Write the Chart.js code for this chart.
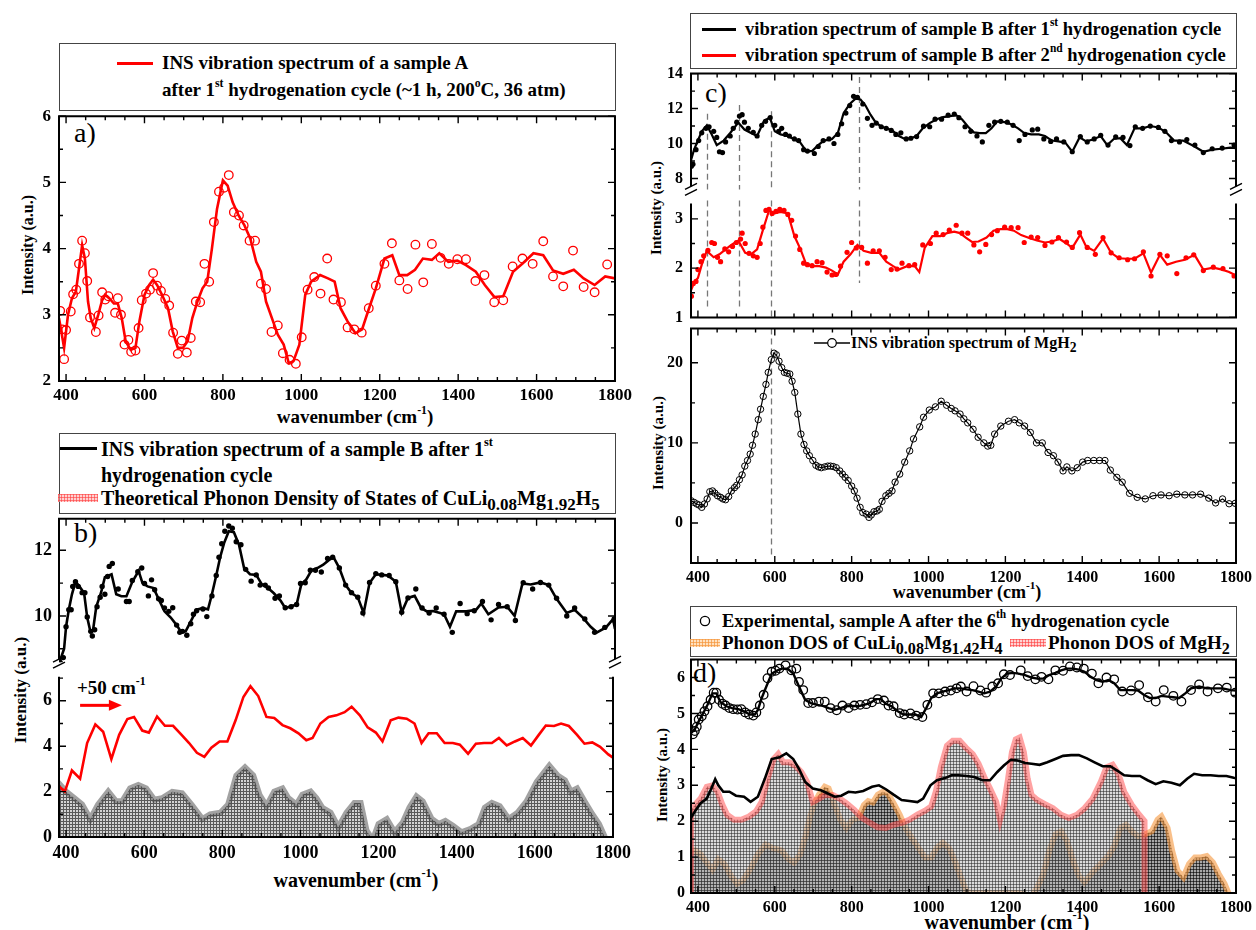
<!DOCTYPE html>
<html>
<head>
<meta charset="utf-8">
<script src="https://cdn.jsdelivr.net/npm/chart.js@4.4.1/dist/chart.umd.min.js"></script>
<style>
body { margin: 0; background: #fff; }
#fig { position: relative; width: 1256px; height: 930px; overflow: hidden; background: #fff;
  font-family: "Liberation Serif", "Times New Roman", serif; color: #000; }
.box { position: absolute; border: 1.5px solid #444; box-sizing: border-box; }
.t { position: absolute; white-space: nowrap; font-weight: bold; line-height: 22px; }
.t sup, .xt sup { font-size: 62%; line-height: 0; vertical-align: 0.8em; }
.t sub { font-size: 85%; line-height: 0; vertical-align: -0.3em; }
.sw { position: absolute; }
.lab { position: absolute; font-size: 28px; line-height: 30px; }
.yt { position: absolute; font-weight: bold; white-space: nowrap; transform: translate(-50%, -50%) rotate(-90deg); }
.xt { position: absolute; font-weight: bold; white-space: nowrap; transform: translate(-50%, -50%); }
.mesh-r { background-color: rgba(255,180,180,.6);
  background-image: linear-gradient(90deg, rgba(255,60,60,.6) 1px, transparent 1px), linear-gradient(rgba(255,60,60,.6) 1px, transparent 1px);
  background-size: 3px 3px; }
.mesh-o { background-color: rgba(255,205,150,.6);
  background-image: linear-gradient(90deg, rgba(245,150,60,.7) 1px, transparent 1px), linear-gradient(rgba(245,150,60,.7) 1px, transparent 1px);
  background-size: 3px 3px; }
</style>
</head>
<body>
<div id="fig">
  <!-- a) legend -->
  <div class="box" style="left:59px;top:43px;width:557px;height:68px"></div>
  <div class="sw" style="left:117px;top:62px;width:36px;height:3px;background:#f00"></div>
  <div class="t" style="left:162px;top:52px;font-size:19px">INS vibration spectrum of a sample A</div>
  <div class="t" style="left:162px;top:79px;font-size:19px">after 1<sup>st</sup> hydrogenation cycle (~1 h, 200<sup>o</sup>C, 36 atm)</div>
  <div class="lab" style="left:74px;top:118px">a)</div>
  <div class="yt" style="left:28px;top:245px;font-size:16px">Intensity (a.u.)</div>
  <div class="xt" style="left:355px;top:417px;font-size:19px">wavenumber (cm<sup>-1</sup>)</div>

  <!-- b) legend -->
  <div class="box" style="left:59px;top:433px;width:557px;height:81px"></div>
  <div class="sw" style="left:60px;top:447px;width:37px;height:3px;background:#000"></div>
  <div class="t" style="left:101px;top:438px;font-size:20px">INS vibration spectrum of a sample B after 1<sup>st</sup></div>
  <div class="t" style="left:101px;top:464px;font-size:20px">hydrogenation cycle</div>
  <div class="sw mesh-r" style="left:58px;top:494px;width:40px;height:8px"></div>
  <div class="t" style="left:101px;top:487px;font-size:20px">Theoretical Phonon Density of States of CuLi<sub>0.08</sub>Mg<sub>1.92</sub>H<sub>5</sub></div>
  <div class="lab" style="left:74px;top:518px">b)</div>
  <div class="t" style="left:77px;top:677px;font-size:19px">+50 cm<sup>-1</sup></div>
  <div class="yt" style="left:21px;top:690px;font-size:17px">Intensity (a.u.)</div>
  <div class="xt" style="left:356px;top:880px;font-size:20px">wavenumber (cm<sup>-1</sup>)</div>

  <!-- c) legend -->
  <div class="box" style="left:690px;top:13px;width:547px;height:56px"></div>
  <div class="sw" style="left:702px;top:28px;width:34px;height:2.5px;background:#000"></div>
  <div class="t" style="left:745px;top:18px;font-size:18.5px">vibration spectrum of sample B after 1<sup>st</sup> hydrogenation cycle</div>
  <div class="sw" style="left:702px;top:54px;width:34px;height:2.5px;background:#f00"></div>
  <div class="t" style="left:745px;top:44px;font-size:18.5px">vibration spectrum of sample B after 2<sup>nd</sup> hydrogenation cycle</div>
  <div class="lab" style="left:705px;top:78px">c)</div>
  <svg class="sw" style="left:814px;top:337px" width="36" height="12"><line x1="0" y1="6" x2="36" y2="6" stroke="#000" stroke-width="1.3"/><circle cx="18" cy="6" r="4.3" fill="#fff" stroke="#000" stroke-width="1.2"/></svg>
  <div class="t" style="left:851px;top:332px;font-size:16px">INS vibration spectrum of MgH<sub>2</sub></div>
  <div class="yt" style="left:656px;top:208px;font-size:15px">Intensity (a.u.)</div>
  <div class="yt" style="left:658px;top:443px;font-size:15px">Intensity (a.u.)</div>
  <div class="xt" style="left:967px;top:592px;font-size:18px">wavenumber (cm<sup>-1</sup>)</div>

  <!-- d) legend -->
  <div class="box" style="left:690px;top:606px;width:547px;height:51px"></div>
  <svg class="sw" style="left:699px;top:615px" width="12" height="12"><circle cx="6" cy="6" r="4.6" fill="none" stroke="#000" stroke-width="1.3"/></svg>
  <div class="t" style="left:722px;top:610px;font-size:18.5px">Experimental, sample A after the 6<sup>th</sup> hydrogenation cycle</div>
  <div class="sw mesh-o" style="left:690px;top:639px;width:30px;height:8px"></div>
  <div class="t" style="left:722px;top:632px;font-size:19px">Phonon DOS of CuLi<sub>0.08</sub>Mg<sub>1.42</sub>H<sub>4</sub></div>
  <div class="sw mesh-r" style="left:1010px;top:639px;width:36px;height:8px"></div>
  <div class="t" style="left:1048px;top:632px;font-size:19px">Phonon DOS of MgH<sub>2</sub></div>
  <div class="lab" style="left:693px;top:658px">d)</div>
  <div class="yt" style="left:662px;top:775px;font-size:15px">Intensity (a.u.)</div>
  <div class="xt" style="left:1007px;top:922px;font-size:20px">wavenumber (cm<sup>-1</sup>)</div>
</div>

<script>
// ── shared x axis ──
const X_MIN = 382, X_MAX = 1800;
const xTicks = [400, 600, 800, 1000, 1200, 1400, 1600, 1800];

// ── a) sample A, 1st cycle ──
const aDotX = [385,390,395,400,412,418,426,433,441,448, 454,461,476,483,492,500,508,525,532,540,
  549,559,566,577,585,593,604,614,622,632, 642,653,663,673,685,695,708,718,731,742,
  753,765,777,790,803,815,828,841,853,868, 882,897,910,924,940,953,970,986,1001,1016,
  1033,1049,1066,1082,1101,1118,1135,1154,1172,1190, 1212,1231,1250,1271,1291,1311,1333,1355,1376,1398,
  1420,1444,1467,1492,1515,1539,1564,1590,1617,1642, 1668,1693,1720,1748,1780];
const aDotY = [3.06,2.78,2.33,2.77,3.05,3.31,3.38,3.77,4.12,3.93, 3.51,2.96,2.74,2.99,3.34,3.23,3.28,3.03,3.25,3.0,
  2.55,2.62,2.44,2.46,2.80,3.22,3.32,3.38,3.63,3.44, 3.36,3.24,3.14,2.73,2.41,2.61,2.43,2.65,3.20,3.19,
  3.77,3.50,4.40,4.86,4.92,5.11,4.55,4.50,4.35,4.12, 4.12,3.47,3.39,2.74,2.84,2.42,2.32,2.26,2.66,3.38,
  3.57,3.32,3.85,3.23,3.19,2.81,2.78,2.73,3.10,3.44, 3.77,4.08,3.52,3.39,4.06,3.49,4.07,3.86,3.77,3.84,
  3.84,3.51,3.60,3.19,3.22,3.73,3.85,3.77,4.11,3.58, 3.43,3.97,3.42,3.34,3.76];
const aLineX = [382,385,395,405,415,425,433,441,448,456, 463,472,482,492,500,510,522,532,542,552,
  565,577,587,600,612,622,632,645,660,672, 685,698,710,722,735,748,760,772,785,800,
  812,825,840,855,870,885,897,910,925,940, 955,968,980,995,1010,1025,1048,1068,1085,1100,
  1118,1138,1155,1170,1190,1212,1232,1250,1270,1290, 1310,1333,1352,1375,1398,1420,1445,1468,1492,1515,
  1540,1565,1592,1617,1642,1668,1695,1720,1748,1775, 1800];
const aLineY = [2.95,2.85,2.5,3.0,3.25,3.35,3.7,4.05,3.85,3.2, 2.95,2.8,3.0,3.22,3.3,3.25,3.17,3.17,2.95,2.6,
  2.47,2.5,2.9,3.3,3.45,3.53,3.45,3.3,3.1,2.75, 2.5,2.5,2.6,2.95,3.2,3.4,3.5,4.0,4.6,5.03,
  4.95,4.7,4.5,4.35,4.15,3.8,3.65,3.2,2.95,2.7, 2.55,2.27,2.3,2.55,3.3,3.5,3.6,3.55,3.5,3.1,
  2.9,2.72,2.78,3.05,3.4,3.85,3.9,3.6,3.6,3.68, 3.85,3.83,3.93,3.8,3.82,3.75,3.65,3.45,3.27,3.28,
  3.65,3.78,3.93,3.9,3.67,3.62,3.68,3.55,3.45,3.58, 3.55];

// ── b) sample B (black), shifted spectrum (red), theoretical DOS (grey) ──
const bDotX = [385,393,400,407,413,417,424,431,441,448, 454,463,467,473,479,487,492,499,506,510,
  518,533,554,561,569,583,593,600,610,618, 626,636,643,651,662,672,682,690,697,708,
  718,725,733,749,759,772,783,790,797,805, 815,824,834,846,858,872,885,895,908,916,
  933,944,959,974,988,998,1010,1023,1036,1051, 1067,1080,1097,1113,1128,1144,1157,1174,1190,1205,
  1224,1241,1256,1272,1292,1308,1326,1344,1364,1385, 1405,1423,1441,1462,1484,1503,1525,1546,1566,1590,
  1610,1631,1651,1677,1697,1723,1748,1774,1798];
const bDotY = [8.58,8.73,9.67,10.19,10.19,10.9,11.04,10.9,10.71,10.71, 9.97,9.53,9.39,9.58,10.28,10.57,10.9,10.66,11.2,11.51,
  11.6,10.82,10.44,10.44,11.08,11.35,11.46,10.99,10.61,11.1, 10.8,10.52,10.47,10.24,10.14,10.25,9.72,9.5,9.53,9.41,
  9.76,10.05,10.16,10.21,9.98,10.61,11.23,11.79,12.2,12.58, 12.74,12.67,12.26,12.17,11.42,11.06,11.25,10.94,10.94,10.85,
  10.54,10.61,10.25,10.28,10.35,10.99,11.01,11.39,11.39,11.34, 11.75,11.79,11.46,10.94,10.71,10.57,10.09,11.02,11.29,11.25,
  11.23,11.04,10.11,10.55,10.82,10.24,10.09,10.24,10.05,9.5, 10.38,10.07,10.16,10.44,9.88,10.35,10.28,9.86,11.01,10.82,
  11.02,10.94,10.54,10.0,10.24,9.91,9.5,9.65,9.91];
const bLineX = [383,395,400,407,415,424,434,446,454,462, 469,477,489,499,516,528,541,554,569,585,
  595,608,623,636,651,667,682,694,705,721, 733,749,762,772,783,793,803,815,828,841,
  854,869,885,899,915,930,947,959,971,988, 1000,1012,1026,1041,1056,1070,1082,1097,1113,1128,
  1144,1159,1174,1190,1205,1221,1241,1256,1272,1289, 1305,1320,1336,1354,1364,1379,1395,1421,1446,1459,
  1477,1503,1525,1544,1564,1585,1610,1631,1651,1677, 1697,1718,1738,1754,1777,1795,1800];
const bLineY = [8.58,9.0,9.67,10.19,10.66,11.04,10.9,10.7,9.95,9.53, 9.58,10.28,10.7,11.18,11.27,10.66,10.6,10.6,11.04,11.37,
  11.0,10.9,10.85,10.52,10.14,9.95,9.72,9.5,9.53,9.9, 10.19,10.24,10.2,10.66,11.23,11.79,12.22,12.58,12.55,12.17,
  11.46,11.27,11.25,10.97,10.85,10.69,10.47,10.24,10.28,10.35, 10.97,11.1,11.39,11.46,11.56,11.7,11.79,11.46,10.94,10.7,
  10.57,10.09,11.0,11.27,11.25,11.23,11.04,10.11,10.55,10.61, 10.25,10.14,10.15,10.09,10.05,9.67,10.14,10.14,10.19,10.38,
  10.05,10.26,10.28,10.0,10.99,10.96,11.02,10.94,10.52,10.09, 10.19,9.95,9.67,9.5,9.65,9.9,9.6];
const bRedX = [383,397,415,436,454,475,495,516,536,557, 574,595,612,633,653,674,694,715,735,754,
  772,793,813,834,854,872,892,913,933,954, 974,995,1015,1031,1051,1072,1092,1113,1131,1152,
  1172,1193,1210,1231,1251,1272,1292,1310,1328,1349, 1369,1390,1408,1429,1449,1470,1490,1508,1528,1549,
  1569,1590,1610,1628,1649,1667,1687,1708,1727,1747, 1767,1788,1800];
const bRedY = [2.21,2.0,2.93,2.57,4.14,4.96,4.64,3.43,4.5,5.2, 5.29,4.69,4.6,5.31,4.9,4.9,4.53,4.14,3.71,3.53,
  3.93,4.21,4.21,5.14,6.17,6.64,6.21,5.29,5.24,4.93, 4.79,4.57,4.26,4.36,5.0,5.29,5.36,5.5,5.74,5.36,
  4.83,4.6,4.21,5.14,5.26,5.21,5.0,4.14,4.57,4.57, 4.14,4.14,4.07,3.67,4.11,4.14,4.14,4.36,4.03,4.21,
  4.36,4.03,4.5,4.91,4.89,5.0,4.89,4.5,4.11,4.17, 3.97,3.64,3.5];
const bDosX = [362,369,385,400,421,441,462,482,508,528, 544,564,585,605,626,646,672,697,721,749,
  769,795,815,836,858,879,895,913,933,954, 969,990,1005,1026,1041,1056,1077,1097,1118,1138,
  1154,1169,1185,1200,1221,1241,1262,1279,1297,1313, 1336,1354,1371,1390,1412,1436,1456,1472,1490,1510,
  1533,1556,1579,1605,1637,1658,1677,1692,1708,1727, 1747,1764,1779];
const bDosY = [0.29,2.0,2.29,2.0,1.71,1.43,0.79,1.43,2.0,1.57, 1.57,2.14,2.29,2.14,1.64,1.71,1.99,1.93,1.43,0.79,
  1.0,1.07,1.43,2.71,3.07,2.71,1.86,1.36,2.0,2.14, 1.71,1.43,1.86,2.0,1.71,1.29,1.07,0.43,1.07,1.5,
  1.5,0.29,-0.14,0.57,0.79,0.21,0.64,1.29,1.79,1.57, 0.79,0.57,0.71,0.5,0.21,0.36,0.57,1.29,1.5,1.36,
  0.79,1.07,1.57,2.43,3.14,2.71,2.5,2.0,2.14,1.57, 1.0,0.57,0.0];
const shiftArrowX = [436, 543];
const shiftArrowY = 5.8;

// ── c) sample B after 1st (black) and 2nd (red) cycle, MgH2 reference ──
const c1LineX = [382,390,400,410,423,436,449,467,484,505, 521,538,554,572,587,600,615,634,649,665,
  682,697,713,728,749,764,779,795,810,823, 836,849,862,877,892,908,923,938,954,969,
  985,1003,1021,1038,1056,1072,1087,1103,1118,1133, 1149,1164,1179,1198,1215,1233,1249,1267,1287,1303,
  1321,1338,1356,1374,1393,1410,1428,1448,1465,1482, 1499,1516,1536,1557,1577,1598,1618,1639,1662,1690,
  1715,1738,1762,1785,1800];
const c1LineY = [9.04,9.65,10.17,10.7,11.04,10.52,9.91,10.17,10.6,11.2, 10.8,10.6,10.43,11.3,11.48,10.7,10.52,10.43,10.26,10.09,
  9.57,9.57,9.91,10.17,10.26,10.6,11.74,12.26,12.56,12.52, 12.17,11.65,11.22,10.96,10.87,10.7,10.43,10.26,10.3,10.43,
  10.87,11.17,11.39,11.51,11.57,11.62,11.39,10.96,10.64,10.6, 10.6,10.87,11.27,11.22,11.1,10.87,10.6,10.52,10.52,10.43,
  10.17,10.12,10.05,9.53,10.35,10.12,10.23,10.43,9.91,10.26, 10.3,9.91,10.87,10.87,11.0,10.92,10.64,10.17,10.17,9.86,
  9.53,9.65,9.7,9.77,9.74];
const c1DotX = [383,387,395,402,410,421,429,441,449,456, 464,472,484,492,501,508,515,521,531,544,
  554,566,576,588,600,610,618,628,638,651, 662,675,685,703,713,726,741,754,764,774,
  785,795,805,815,829,841,853,864,877,890, 903,915,928,942,954,969,987,1003,1017,1034,
  1051,1067,1079,1095,1110,1126,1140,1157,1172,1188, 1205,1220,1236,1251,1270,1284,1300,1318,1333,1352,
  1374,1395,1413,1431,1448,1467,1487,1506,1524,1538, 1557,1577,1598,1615,1632,1653,1672,1693,1715,1738,
  1764,1795];
const c1DotY = [8.7,8.82,9.65,10.17,10.61,10.87,10.96,10.7,10.35,9.53, 9.48,10.09,10.43,10.87,11.22,11.57,11.65,11.22,10.87,10.64,
  10.43,11.04,11.27,11.48,11.04,10.7,10.87,10.52,10.43,10.26, 10.17,9.65,9.57,9.43,9.83,10.17,10.26,10.0,10.52,11.13,
  11.74,12.17,12.7,12.64,12.26,11.44,11.04,11.17,10.96,10.87, 10.75,10.52,10.61,10.26,10.3,10.4,10.99,10.96,11.39,11.39,
  11.62,11.69,11.48,10.96,10.7,10.43,10.09,11.04,11.22,11.27, 11.22,11.04,10.17,10.52,10.78,10.82,10.26,10.12,10.26,10.09,
  9.53,10.4,10.09,10.26,10.47,9.91,10.38,10.35,9.88,10.96, 10.87,11.0,10.92,10.7,10.17,10.09,10.23,9.91,9.48,9.7,
  9.74,9.91];
const c2LineX = [382,390,400,410,423,441,456,472,487,505, 523,538,554,569,585,600,615,634,651,667,
  682,697,716,733,749,764,779,797,815,831, 851,872,890,908,923,944,964,976,990,1010,
  1031,1048,1067,1082,1097,1113,1130,1151,1169,1187, 1205,1222,1241,1262,1282,1303,1321,1341,1359,1374,
  1395,1410,1431,1454,1475,1495,1516,1536,1559,1579, 1602,1621,1644,1667,1692,1715,1741,1764,1782,1800];
const c2LineY = [1.55,1.7,1.8,2.07,2.35,2.22,2.28,2.38,2.47,2.56, 2.31,2.28,2.38,2.77,3.17,3.11,3.14,3.11,2.65,2.38,
  2.07,2.04,2.04,2.01,1.95,1.87,2.13,2.28,2.47,2.35, 2.31,2.31,2.13,2.04,1.97,2.04,2.04,1.92,2.41,2.65,
  2.65,2.71,2.74,2.71,2.62,2.53,2.54,2.62,2.76,2.79, 2.79,2.76,2.67,2.61,2.56,2.52,2.54,2.59,2.5,2.41,
  2.68,2.44,2.35,2.6,2.31,2.2,2.19,2.19,2.3,1.91, 2.27,2.07,2.13,2.17,2.27,1.97,2.01,1.97,1.92,1.85];
const c2DotX = [383,388,395,400,408,415,426,436,443,451, 459,470,480,490,500,511,515,523,533,544,
  554,562,569,577,585,593,603,613,624,634, 644,654,665,675,685,697,710,723,736,749,
  759,771,788,800,812,826,841,856,872,887, 903,918,931,949,964,985,1005,1020,1038,1054,
  1072,1087,1102,1118,1133,1149,1164,1179,1198,1215, 1233,1249,1267,1284,1303,1321,1338,1359,1374,1393,
  1413,1434,1454,1475,1496,1518,1536,1559,1579,1602, 1621,1646,1670,1690,1715,1741,1766,1795];
const c2DotY = [1.43,1.69,1.73,1.97,2.13,2.25,2.36,2.52,2.5,2.22, 2.13,2.39,2.33,2.44,2.52,2.59,2.71,2.5,2.3,2.25,
  2.22,2.5,2.83,3.17,3.19,3.11,3.15,3.19,3.17,3.09, 2.97,2.65,2.38,2.1,2.07,2.05,2.13,2.11,1.92,1.86,
  1.87,2.04,2.32,2.52,2.41,2.42,2.1,2.35,2.35,2.22, 1.97,1.98,2.1,2.05,2.07,2.47,2.5,2.71,2.68,2.77,
  2.87,2.71,2.71,2.47,2.33,2.48,2.68,2.76,2.83,2.82, 2.82,2.52,2.63,2.62,2.46,2.53,2.62,2.53,2.42,2.72,
  2.42,2.28,2.62,2.31,2.21,2.17,2.19,2.33,1.84,2.28, 2.25,1.89,2.21,2.27,1.95,2.02,1.99,1.84];
const mgX = [382,390,397,403,410,417,424,431,438,444, 451,459,465,472,480,487,495,501,508,515,
  522,529,536,542,549,557,563,570,577,583, 591,598,604,611,618,625,632,639,645,652,
  660,668,676,683,690,699,707,714,721,730, 738,745,752,760,769,776,783,791,800,807,
  814,822,829,838,845,851,858,866,872,879, 889,897,905,913,925,938,951,961,977,987,
  1002,1018,1033,1047,1059,1069,1082,1092,1102,1116, 1129,1144,1154,1162,1172,1188,1208,1224,1236,1250,
  1265,1281,1296,1311,1325,1337,1350,1360,1373,1387, 1401,1414,1430,1445,1459,1473,1490,1504,1523,1543,
  1564,1584,1605,1626,1646,1667,1687,1708,1729,1747, 1765,1782,1798];
const mgY = [2.78,2.57,2.37,2.24,1.95,2.37,3.0,3.9,4.0,3.73, 3.4,3.2,3.0,2.9,3.3,4.0,4.4,4.7,5.4,6.0,
  7.1,7.8,8.6,9.7,11.1,12.9,14.2,15.8,17.3,18.8, 20.4,21.2,21.0,20.2,19.4,18.8,18.7,18.6,17.7,16.3,
  13.6,11.1,9.8,9.0,8.4,7.8,7.2,7.0,6.9,7.0, 7.1,7.1,7.05,6.9,6.5,6.1,5.7,5.3,4.6,4.0,
  3.1,1.95,1.3,1.1,0.7,1.0,1.4,1.5,1.7,2.7, 3.4,3.7,4.0,5.1,6.1,7.6,9.0,10.5,12.0,13.2,
  14.1,14.5,15.2,14.7,14.3,14.0,13.6,13.0,12.5,11.7, 10.7,10.0,9.6,9.7,11.1,12.1,12.7,12.9,12.5,12.1,
  11.3,10.0,10.0,8.8,8.4,7.6,6.5,7.0,6.5,6.9, 7.6,7.8,7.8,7.8,7.8,6.6,5.7,5.1,3.7,3.2,
  3.0,3.4,3.5,3.4,3.6,3.5,3.5,3.6,3.1,2.5, 3.0,2.4,2.45];
// guide lines at the main peaks (wavenumber, top value in upper part, bottom value in lower part)
const guideX = [423, 506, 590, 820];
const guideTop = [11.7, 12.2, 11.85, 13.8];
const guideBottom = [1.15, 1.15, 1.0, 1.7];
const guideMgBottom = -4;

// ── d) sample A after 6th cycle, computed DOS ──
const dExpX = [387,392,397,402,410,417,425,433,441,448, 455,464,472,482,492,503,513,523,533,544,
  552,561,571,581,592,602,612,628,643,656, 663,674,687,699,715,730,745,761,776,792,
  807,822,838,853,868,884,896,909,925,937, 953,968,984,997,1012,1027,1043,1058,1073,1084,
  1099,1117,1135,1150,1166,1181,1196,1212,1240,1258, 1278,1294,1312,1330,1350,1368,1386,1404,1425,1442,
  1463,1483,1504,1527,1548,1571,1591,1612,1637,1658, 1683,1704,1726,1753,1776,1798];
const dExpY = [4.42,4.51,4.63,4.83,4.92,5.06,5.2,5.38,5.58,5.58, 5.38,5.27,5.22,5.15,5.12,5.11,5.12,5.03,4.97,4.94,
  5.03,5.22,5.52,5.98,6.16,6.19,6.25,6.34,6.2,6.25, 5.88,5.65,5.29,5.29,5.33,5.33,5.15,5.09,5.22,5.15,
  5.22,5.24,5.26,5.31,5.4,5.36,5.22,5.2,5.01,4.97, 5.0,4.94,4.9,5.24,5.56,5.56,5.61,5.64,5.7,5.75,
  5.61,5.76,5.64,5.58,5.75,5.84,6.09,6.07,6.2,6.04, 5.95,6.02,5.95,6.2,6.19,6.31,6.28,6.25,6.11,5.84,
  6.0,5.95,5.61,5.64,5.79,5.45,5.33,5.65,5.49,5.33, 5.65,5.81,5.61,5.7,5.72,5.58];
const dFitX = [382,392,402,412,425,438,448,458,474,489, 505,520,535,548,556,566,578,592,607,619,
  633,648,663,679,694,710,725,740,756,771, 786,802,817,832,848,863,876,889,904,920,
  935,950,966,981,994,1007,1022,1037,1053,1068, 1084,1099,1114,1130,1145,1160,1176,1189,1204,1220,
  1234,1251,1268,1283,1299,1314,1330,1345,1360,1376, 1391,1406,1422,1437,1453,1468,1483,1499,1514,1529,
  1545,1560,1576,1591,1606,1622,1637,1652,1668,1683, 1704,1724,1745,1765,1786,1800];
const dFitY = [4.45,4.56,4.78,4.97,5.24,5.56,5.56,5.33,5.2,5.15, 5.12,5.06,4.97,4.97,5.1,5.43,5.75,6.11,6.2,6.25,
  6.25,6.11,5.75,5.38,5.29,5.24,5.21,5.15,5.1,5.15, 5.2,5.21,5.2,5.24,5.29,5.4,5.4,5.27,5.2,5.06,
  4.97,4.97,4.97,4.9,5.15,5.43,5.56,5.61,5.65,5.7, 5.7,5.67,5.65,5.61,5.56,5.61,5.75,5.97,6.11,6.13,
  6.11,6.07,6.0,5.97,5.97,6.07,6.13,6.2,6.25,6.25, 6.22,6.16,6.02,5.93,5.88,5.93,5.84,5.65,5.65,5.65,
  5.64,5.52,5.43,5.43,5.49,5.47,5.45,5.43,5.56,5.7, 5.75,5.7,5.7,5.7,5.65,5.64];
const dSumX = [382,392,407,423,435,445,453,466,482,499, 520,537,556,574,592,612,630,648,663,679,
  699,720,738,756,773,792,810,830,853,871, 889,909,930,950,971,986,1005,1022,1043,1060,
  1078,1099,1119,1140,1160,1179,1196,1214,1232,1251, 1268,1289,1309,1330,1350,1371,1391,1412,1432,1453,
  1473,1491,1509,1529,1550,1570,1591,1611,1632,1654, 1673,1691,1712,1734,1755,1775,1794,1800];
const dSumY = [2.09,2.27,2.5,2.63,2.91,3.17,3.0,2.82,2.82,2.71, 2.68,2.54,2.68,3.18,3.73,3.78,3.89,3.73,3.46,3.09,
  2.91,2.86,2.77,2.68,2.71,2.82,2.8,2.84,2.96,3.0, 2.89,2.74,2.59,2.56,2.53,2.63,3.0,3.14,3.2,3.28,
  3.28,3.26,3.23,3.14,3.14,3.37,3.55,3.71,3.69,3.62, 3.6,3.57,3.64,3.73,3.82,3.84,3.84,3.75,3.64,3.53,
  3.53,3.41,3.28,3.26,3.26,3.14,3.03,3.11,3.07,3.0, 3.18,3.32,3.28,3.28,3.26,3.26,3.21,3.2];
const dMgX = [382,382,392,407,423,438,451,464,476,494, 513,533,551,566,581,597,609,622,638,653,
  669,684,699,715,730,751,769,786,807,827, 848,868,889,909,930,950,971,991,1007,1019,
  1032,1048,1063,1081,1097,1115,1130,1145,1160,1176, 1186,1196,1207,1217,1227,1237,1248,1258,1268,1283,
  1304,1324,1345,1365,1386,1406,1427,1448,1463,1479, 1494,1509,1529,1548,1562,1562];
const dMgY = [0,2.31,2.45,2.63,2.96,3.0,2.82,2.45,2.18,2.04, 2.04,2.13,2.27,2.54,3.18,3.73,3.87,3.64,3.64,3.55,
  3.37,3.09,2.54,2.63,2.73,2.73,2.63,2.5,2.31,2.09, 1.95,1.83,1.81,1.9,1.95,2.04,2.18,2.29,2.41,2.82,
  3.5,4.1,4.24,4.24,4.05,3.87,3.6,3.23,2.91,2.54, 2.04,2.45,3.18,3.92,4.28,4.33,3.92,3.18,2.73,2.59,
  2.47,2.36,2.18,2.09,2.18,2.36,2.63,3.09,3.5,3.57, 3.32,2.82,2.45,2.18,2.0,0];
const dCuX = [382,392,407,423,438,453,469,486,502,517, 535,556,576,597,617,636,650,666,679,691,
  701,715,730,740,756,771,786,802,817,832, 843,855,868,881,894,909,925,940,956,976,
  991,1007,1022,1037,1053,1068,1084,1099,1114,1171, 1232,1258,1268,1283,1299,1314,1330,1345,1360,1376,
  1391,1406,1427,1448,1468,1483,1499,1514,1529,1545, 1562,1581,1596,1606,1622,1634,1648,1663,1678,1693,
  1709,1724,1740,1755,1770,1781,1786];
const dCuY = [1.17,1.19,1.08,0.85,0.65,0.94,0.81,0.48,0.26,0.35, 0.64,1.08,1.35,1.24,1.19,0.94,0.85,1.08,1.54,2.09,
  2.45,2.74,2.96,2.91,2.45,2.04,1.81,2.04,2.09,2.45, 2.56,2.52,2.74,2.82,2.77,2.5,2.18,1.81,1.54,1.22,
  0.99,0.99,1.26,1.4,1.26,0.9,0.44,0.03,0,0, 0,-0.06,-0.1,0.16,0.53,1.17,1.63,1.72,1.45,0.9,
  0.48,0.3,0.58,0.81,1.03,1.3,1.81,1.9,1.72,1.58, 1.63,1.72,2.04,2.13,1.81,1.17,0.62,0.44,0.81,0.99,
  0.99,1.03,0.85,0.53,0.26,-0.02,-0.06];

// ── helpers ──
const RED = '#ff0000';
const xy = (xs, ys) => xs.map((x, i) => ({x, y: ys[i]}));
const line = (xs, ys, color, width, extra) => Object.assign(
  {data: xy(xs, ys), borderColor: color, borderWidth: width, pointRadius: 0, fill: false, tension: 0}, extra || {});
const dots = (xs, ys, color, r, hollow) => ({
  data: xy(xs, ys), showLine: false, pointRadius: r, pointBorderWidth: hollow ? 1.3 : 0,
  pointBorderColor: color, pointBackgroundColor: hollow ? 'rgba(0,0,0,0)' : color, borderColor: color
});
function mesh(ctx, bg, fg) {
  const tile = document.createElement('canvas');
  tile.width = 3; tile.height = 3;
  const g = tile.getContext('2d');
  g.fillStyle = bg; g.fillRect(0, 0, 3, 3);
  g.fillStyle = fg; g.fillRect(0, 0, 3, 1); g.fillRect(0, 0, 1, 3);
  return ctx.createPattern(tile, 'repeat');
}
function minorList(min, max, step, majors) {
  const out = [];
  for (let v = Math.ceil(min / step - 1e-9) * step; v <= max + 1e-9; v += step) {
    if (!majors.some(m => Math.abs(m - v) < 1e-6)) out.push(v);
  }
  return out;
}

// ── Origin-like frame: box, inward ticks, axis break marks ──
const framePlugin = {
  id: 'frame',
  afterDatasetsDraw(chart, args, o) {
    const {ctx, chartArea: a} = chart;
    const xs = chart.scales.x, ys = chart.scales.y;
    const sides = o.sides || 'tblr';
    const gT = o.breakTop ? 3 : 0, gB = o.breakBottom ? 3 : 0;
    ctx.save();
    ctx.strokeStyle = '#000';
    ctx.lineWidth = 2;
    ctx.beginPath();
    if (sides.includes('t')) { ctx.moveTo(a.left - 1, a.top); ctx.lineTo(a.right + 1, a.top); }
    if (sides.includes('b')) { ctx.moveTo(a.left - 1, a.bottom); ctx.lineTo(a.right + 1, a.bottom); }
    ctx.moveTo(a.left, a.top + gT); ctx.lineTo(a.left, a.bottom - gB);
    ctx.moveTo(a.right, a.top + gT); ctx.lineTo(a.right, a.bottom - gB);
    ctx.stroke();

    ctx.lineWidth = 1.4;
    ctx.beginPath();
    const tickY = (v, len) => {
      const p = ys.getPixelForValue(v);
      ctx.moveTo(a.left, p); ctx.lineTo(a.left + len, p);
      ctx.moveTo(a.right, p); ctx.lineTo(a.right - len, p);
    };
    const tickX = (v, len) => {
      const p = xs.getPixelForValue(v);
      if (sides.includes('t')) { ctx.moveTo(p, a.top); ctx.lineTo(p, a.top + len); }
      if (sides.includes('b')) { ctx.moveTo(p, a.bottom); ctx.lineTo(p, a.bottom - len); }
    };
    const yMajor = ys.ticks.map(t => t.value);
    yMajor.forEach(v => tickY(v, 7));
    minorList(ys.min, ys.max, o.yMinor, yMajor).forEach(v => tickY(v, 4));
    xTicks.forEach(v => tickX(v, 7));
    minorList(xs.min, xs.max, 50, xTicks).forEach(v => tickX(v, 4));
    ctx.stroke();

    if (o.breakBottom) {
      ctx.lineWidth = 1.5;
      ctx.beginPath();
      [a.left, a.right].forEach(x0 => {
        [-3, 3].forEach(d => { ctx.moveTo(x0 - 6, a.bottom + d + 3); ctx.lineTo(x0 + 6, a.bottom + d - 3); });
      });
      ctx.stroke();
    }
    ctx.restore();
  }
};

// dashed guide lines (panel c)
const guidePlugin = {
  id: 'guides',
  beforeDatasetsDraw(chart, args, o) {
    if (!o.lines) return;
    const {ctx} = chart;
    const xs = chart.scales.x, ys = chart.scales.y;
    ctx.save();
    ctx.strokeStyle = '#777';
    ctx.lineWidth = 1.3;
    ctx.setLineDash([6, 4]);
    ctx.beginPath();
    o.lines.forEach(([x, y0, y1]) => {
      const px = Math.round(xs.getPixelForValue(x)) + 0.5;
      ctx.moveTo(px, ys.getPixelForValue(y0));
      ctx.lineTo(px, ys.getPixelForValue(y1));
    });
    ctx.stroke();
    ctx.restore();
  }
};

// "+50 cm-1" shift arrow (panel b)
const arrowPlugin = {
  id: 'shiftArrow',
  afterDatasetsDraw(chart, args, o) {
    if (!o.from) return;
    const {ctx} = chart;
    const xs = chart.scales.x, ys = chart.scales.y;
    const p0 = xs.getPixelForValue(o.from), p1 = xs.getPixelForValue(o.to), py = ys.getPixelForValue(o.y);
    ctx.save();
    ctx.strokeStyle = RED; ctx.fillStyle = RED; ctx.lineWidth = 3;
    ctx.beginPath(); ctx.moveTo(p0, py); ctx.lineTo(p1 - 10, py); ctx.stroke();
    ctx.beginPath(); ctx.moveTo(p1, py); ctx.lineTo(p1 - 13, py - 5.5); ctx.lineTo(p1 - 13, py + 5.5); ctx.closePath(); ctx.fill();
    ctx.restore();
  }
};

// ── chart factory: places a canvas so its plot area lands on the given box ──
Chart.defaults.font.family = '"Liberation Serif", "Times New Roman", serif';
Chart.defaults.font.weight = 'bold';
const fig = document.getElementById('fig');
const PAD = 12, PR = 22, YW = 50, XH = 30;

function plot(g, yRange, yTicks, yMinor, buildDatasets, extra) {
  const showX = !!g.xFont;
  const w = g.R - g.L + YW + PR;
  const h = g.B - g.T + PAD + (showX ? XH : PAD);
  const div = document.createElement('div');
  div.style.cssText = `position:absolute;left:${g.L - YW}px;top:${g.T - PAD}px;width:${w}px;height:${h}px`;
  const cv = document.createElement('canvas');
  cv.width = w; cv.height = h;
  cv.style.width = w + 'px'; cv.style.height = h + 'px';
  div.appendChild(cv);
  fig.appendChild(div);
  const ctx = cv.getContext('2d');
  extra = extra || {};
  return new Chart(cv, {
    type: 'line',
    data: {datasets: buildDatasets(ctx)},
    options: {
      responsive: false,
      animation: false,
      events: [],
      layout: {padding: {top: PAD, right: PR, left: 0, bottom: showX ? 0 : PAD}},
      plugins: {
        legend: {display: false},
        tooltip: {enabled: false},
        frame: Object.assign({yMinor}, extra.frame || {}),
        guides: {lines: extra.guides},
        shiftArrow: extra.arrow || {}
      },
      scales: {
        x: {
          type: 'linear', min: X_MIN, max: X_MAX, display: showX,
          afterBuildTicks: s => { s.ticks = xTicks.map(v => ({value: v})); },
          afterFit: s => { s.height = showX ? XH : 0; },
          grid: {display: false, drawTicks: false}, border: {display: false},
          ticks: {color: '#000', font: {size: g.xFont || 16, weight: 'bold'}, padding: g.xPad || 0, maxRotation: 0, autoSkip: false, callback: v => String(v)}
        },
        y: {
          type: 'linear', min: yRange[0], max: yRange[1],
          afterBuildTicks: s => { s.ticks = yTicks.map(v => ({value: v})); },
          afterFit: s => { s.width = YW; },
          grid: {display: false, drawTicks: false}, border: {display: false},
          ticks: {color: '#000', font: {size: g.yFont, weight: 'bold'}, padding: g.yPad, autoSkip: false, callback: v => String(v)}
        }
      }
    },
    plugins: [framePlugin, guidePlugin, arrowPlugin]
  });
}

// a)
plot({L: 59, T: 110, R: 615, B: 381, xFont: 17, xPad: 4, yFont: 17, yPad: 8},
  [2, 6], [2, 3, 4, 5, 6], 0.5,
  () => [dots(aDotX, aDotY, RED, 4.3, true), line(aLineX, aLineY, RED, 2.6)]);

// b) upper part
plot({L: 59, T: 513, R: 615, B: 668, yFont: 18, yPad: 7},
  [8.59, 12.96], [10, 12], 1,
  () => [dots(bDotX, bDotY, '#000', 2.7), line(bLineX, bLineY, '#000', 2.6)],
  {frame: {sides: 'tlr', breakBottom: true}});
// b) lower part
plot({L: 59, T: 668, R: 615, B: 837, xFont: 18, xPad: 6, yFont: 18, yPad: 7},
  [0, 7.19], [0, 2, 4, 6], 1,
  ctx => [
    line(bRedX, bRedY, RED, 2.6),
    line(bDosX, bDosY, 'rgba(70,70,70,0.5)', 6, {fill: 'origin', backgroundColor: mesh(ctx, '#d4d4d4', '#5a5a5a')})
  ],
  {frame: {sides: 'blr', breakTop: true}, arrow: {from: shiftArrowX[0], to: shiftArrowX[1], y: shiftArrowY}});

// c) upper part (1st cycle)
plot({L: 691, T: 68, R: 1236, B: 195, yFont: 16, yPad: 8},
  [7.375, 14], [8, 10, 12, 14], 1,
  () => [dots(c1DotX, c1DotY, '#000', 2.6), line(c1LineX, c1LineY, '#000', 2.2)],
  {frame: {sides: 'tlr', breakBottom: true}, guides: guideX.map((x, i) => [x, guideTop[i], 7.375])});
// c) middle part (2nd cycle)
plot({L: 691, T: 195, R: 1236, B: 323, yFont: 16, yPad: 8},
  [1, 3.37], [1, 2, 3], 0.5,
  () => [dots(c2DotX, c2DotY, RED, 2.6), line(c2LineX, c2LineY, RED, 2.2)],
  {frame: {sides: 'blr', breakTop: true}, guides: guideX.map((x, i) => [x, 3.37, guideBottom[i]])});
// c) MgH2 reference
plot({L: 691, T: 323, R: 1236, B: 563, xFont: 16, xPad: 5, yFont: 16, yPad: 8},
  [-5, 24.27], [0, 10, 20], 5,
  () => [{
    data: xy(mgX, mgY), borderColor: '#000', borderWidth: 1.2, tension: 0, fill: false,
    pointRadius: 3.2, pointBorderWidth: 1, pointBorderColor: '#000', pointBackgroundColor: 'rgba(0,0,0,0)'
  }],
  {frame: {sides: 'tblr'}, guides: [[guideX[2], 24.27, guideMgBottom]]});

// d)
plot({L: 691, T: 656, R: 1236, B: 893, xFont: 16, xPad: 5, yFont: 16, yPad: 6},
  [0, 6.5], [0, 1, 2, 3, 4, 5, 6], 0.5,
  ctx => [
    dots(dExpX, dExpY, '#000', 4.3, true),
    line(dFitX, dFitY, '#000', 2.4),
    line(dSumX, dSumY, '#000', 2.6),
    line(dMgX, dMgY, 'rgba(255,70,70,0.5)', 6, {fill: 'origin', backgroundColor: mesh(ctx, 'rgba(190,190,190,0.55)', 'rgba(40,40,40,0.55)')}),
    line(dCuX, dCuY, 'rgba(245,150,60,0.6)', 6, {fill: 'origin', backgroundColor: mesh(ctx, 'rgba(110,110,110,0.6)', 'rgba(0,0,0,0.6)')})
  ],
  {frame: {sides: 'tblr'}});
</script>
</body>
</html>
